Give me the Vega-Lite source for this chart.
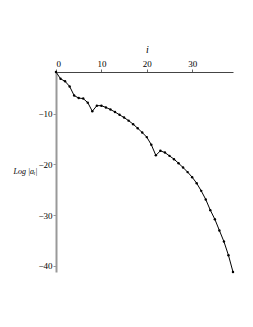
{
  "$schema": "https://vega.github.io/schema/vega-lite/v6.json",
  "width": 177,
  "height": 200,
  "autosize": "none",
  "padding": {"left": 56, "top": 72, "right": 20, "bottom": 55},
  "background": "white",
  "config": {"view": {"stroke": null}},
  "data": {"values": [
    {"i": 0, "v": -1.76}, {"i": 1, "v": -3.1}, {"i": 2, "v": -3.6}, {"i": 3, "v": -4.6},
    {"i": 4, "v": -6.4}, {"i": 5, "v": -6.9}, {"i": 6, "v": -7.0}, {"i": 7, "v": -7.8},
    {"i": 8, "v": -9.5}, {"i": 9, "v": -8.4}, {"i": 10, "v": -8.4}, {"i": 11, "v": -8.75},
    {"i": 12, "v": -9.15}, {"i": 13, "v": -9.65}, {"i": 14, "v": -10.2}, {"i": 15, "v": -10.75},
    {"i": 16, "v": -11.35}, {"i": 17, "v": -12.05}, {"i": 18, "v": -12.85}, {"i": 19, "v": -13.7},
    {"i": 20, "v": -14.6}, {"i": 21, "v": -16.1}, {"i": 22, "v": -18.2}, {"i": 23, "v": -17.3},
    {"i": 24, "v": -17.65}, {"i": 25, "v": -18.3}, {"i": 26, "v": -18.95}, {"i": 27, "v": -19.75},
    {"i": 28, "v": -20.6}, {"i": 29, "v": -21.5}, {"i": 30, "v": -22.5}, {"i": 31, "v": -23.7},
    {"i": 32, "v": -25.2}, {"i": 33, "v": -26.9}, {"i": 34, "v": -29.0}, {"i": 35, "v": -30.8},
    {"i": 36, "v": -33.0}, {"i": 37, "v": -35.2}, {"i": 38, "v": -37.9}, {"i": 39, "v": -41.2}
  ]},
  "encoding": {
    "x": {
      "field": "i", "type": "quantitative",
      "scale": {"domain": [0, 39], "nice": false, "zero": false},
      "axis": {
        "orient": "top", "values": [0, 10, 20, 30], "title": "i",
        "titleFont": "Liberation Serif", "titleFontStyle": "italic", "titleFontWeight": "normal",
        "titleFontSize": 10, "titleColor": "black", "titleX": 91, "titleY": -18,
        "labelFont": "Liberation Serif", "labelFontSize": 9, "labelColor": "black",
        "labelPadding": 1, "tickSize": 3, "tickColor": "#666", "domainColor": "#444",
        "domainWidth": 1, "grid": false
      }
    },
    "y": {
      "field": "v", "type": "quantitative",
      "scale": {"domain": [-41.2, -1.76], "nice": false, "zero": false},
      "axis": {
        "values": [-10, -20, -30, -40], "title": "Log |aᵢ|",
        "titleFont": "Liberation Serif", "titleFontStyle": "italic", "titleFontWeight": "normal",
        "titleFontSize": 8, "titleColor": "black", "titleAngle": 0,
        "titleX": -31, "titleY": 99, "titleAlign": "center", "titleBaseline": "middle",
        "labelFont": "Liberation Serif", "labelFontSize": 9, "labelColor": "black",
        "labelPadding": 1, "tickSize": 3, "tickColor": "#999", "domainColor": "#999",
        "domainWidth": 2, "grid": false
      }
    }
  },
  "layer": [
    {"mark": {"type": "line", "color": "black", "strokeWidth": 1}},
    {"mark": {"type": "point", "filled": true, "color": "black", "size": 6, "opacity": 1}}
  ]
}
